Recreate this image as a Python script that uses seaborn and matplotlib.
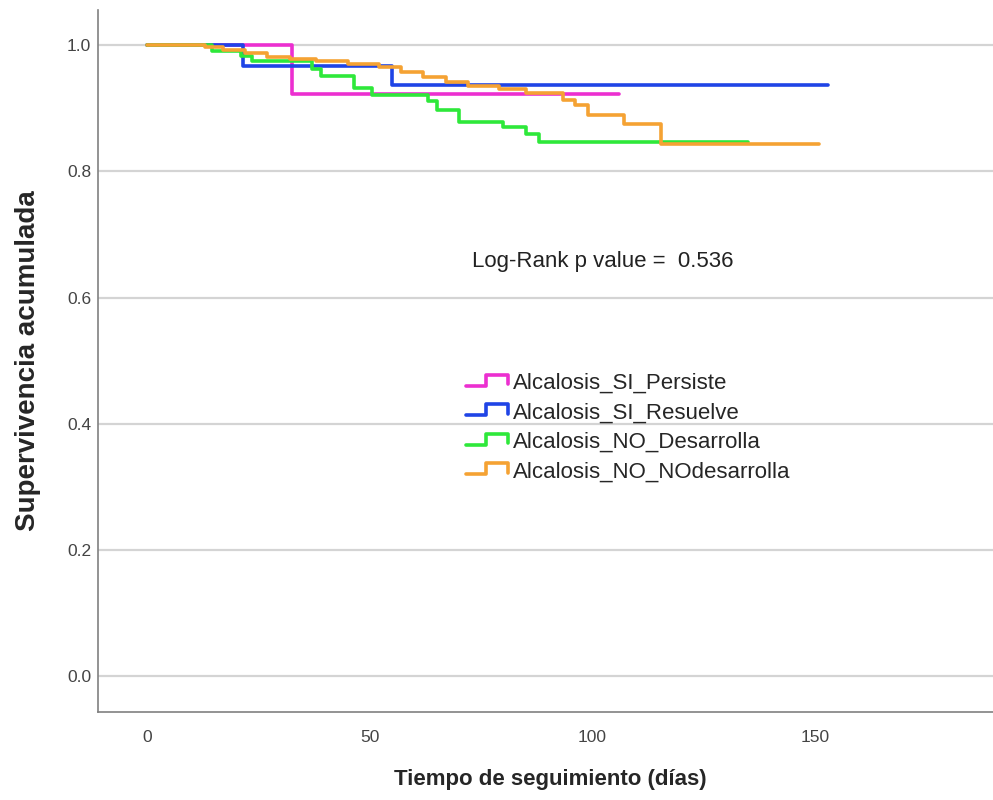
import numpy as np
import pandas as pd
import matplotlib
matplotlib.use("Agg")
import matplotlib.pyplot as plt
import seaborn as sns
from matplotlib.lines import Line2D
from matplotlib.legend_handler import HandlerBase

# curvas de supervivencia (Kaplan-Meier)
grupos = ["Alcalosis_SI_Persiste", "Alcalosis_SI_Resuelve",
          "Alcalosis_NO_Desarrolla", "Alcalosis_NO_NOdesarrolla"]

t_persiste = [0, 32.5, 106]
s_persiste = [1.0, 0.923, 0.923]

t_resuelve = [0, 21.5, 55, 153]
s_resuelve = [1.0, 0.968, 0.937, 0.937]

t_desarrolla = [0, 14.5, 21, 23.5, 37, 39, 46.5, 50.5, 63, 65, 70, 80, 85, 88, 135]
s_desarrolla = [1.0, 0.991, 0.983, 0.975, 0.962, 0.951, 0.933, 0.922, 0.911,
                0.898, 0.879, 0.870, 0.859, 0.846, 0.846]

t_nodesarrolla = [0, 13, 17, 22, 27, 32, 38, 45, 52, 57, 62, 67, 72, 79, 85,
                  93.5, 96, 99, 107, 115.5, 151]
s_nodesarrolla = [1.0, 0.997, 0.993, 0.988, 0.982, 0.978, 0.975, 0.971, 0.966,
                  0.958, 0.949, 0.942, 0.935, 0.930, 0.925, 0.914, 0.906, 0.890,
                  0.876, 0.843, 0.843]

colores = ["#ec2fd0", "#1f44e6", "#2ee83a", "#f5a233"]

tiempos = [t_persiste, t_resuelve, t_desarrolla, t_nodesarrolla]
superv = [s_persiste, s_resuelve, s_desarrolla, s_nodesarrolla]

df = pd.concat([pd.DataFrame({"tiempo": t, "superv": s, "grupo": g})
                for g, t, s in zip(grupos, tiempos, superv)], ignore_index=True)

sns.set_style("white")
plt.rcParams["font.family"] = ["Liberation Sans", "DejaVu Sans"]

fig = plt.figure(figsize=(9.93, 8), dpi=100)
ax = fig.add_axes([0.099, 0.11, 0.91, 0.8775])

# grid horizontal
for yv in [0.0, 0.2, 0.4, 0.6, 0.8, 1.0]:
    ax.axhline(yv, color="#d4d4d4", lw=1.6, zorder=0)

sns.lineplot(data=df, x="tiempo", y="superv", hue="grupo", hue_order=grupos,
             palette=colores, estimator=None, drawstyle="steps-post",
             linewidth=2.6, legend=False, ax=ax)

ax.set_xlim(-11, 192)
ax.set_ylim(-0.057, 1.056)
ax.set_xticks([0, 50, 100, 150])
ax.set_yticks([0.0, 0.2, 0.4, 0.6, 0.8, 1.0])
ax.set_yticklabels(["0.0", "0.2", "0.4", "0.6", "0.8", "1.0"])
ax.tick_params(axis="both", length=0, labelsize=12.5, colors="#444444")
ax.tick_params(axis="x", pad=13)
ax.tick_params(axis="y", pad=5)

for side in ["top", "right"]:
    ax.spines[side].set_visible(False)
for side in ["left", "bottom"]:
    ax.spines[side].set_color("#808080")
    ax.spines[side].set_linewidth(1.2)

ax.set_xlabel("Tiempo de seguimiento (días)", fontsize=16, fontweight="bold", labelpad=17)
ax.set_ylabel("Supervivencia acumulada", fontsize=20, fontweight="bold", labelpad=19)

ax.text(73, 0.657, "Log-Rank p value =  0.536", fontsize=16, color="#222222",
        va="center", ha="left")


class StepHandler(HandlerBase):
    def create_artists(self, legend, orig_handle, xdescent, ydescent, width,
                       height, fontsize, trans):
        xs = np.array([0, 0.45, 0.45, 0.95, 0.95]) * width - xdescent
        ys = np.array([0.2, 0.2, 0.9, 0.9, 0.3]) * height - ydescent
        ln = Line2D(xs, ys, color=orig_handle.get_color(),
                    lw=orig_handle.get_linewidth())
        ln.set_transform(trans)
        return [ln]


handles = [Line2D([], [], color=c, lw=2.6) for c in colores]
ax.legend(handles, grupos, handler_map={Line2D: StepHandler()},
          loc="upper left", bbox_to_anchor=(0.407, 0.483), frameon=False,
          fontsize=16, handlelength=2.0, handletextpad=0.1, labelspacing=0.38,
          borderaxespad=0, borderpad=0)

fig.savefig("out.png", dpi=100)
